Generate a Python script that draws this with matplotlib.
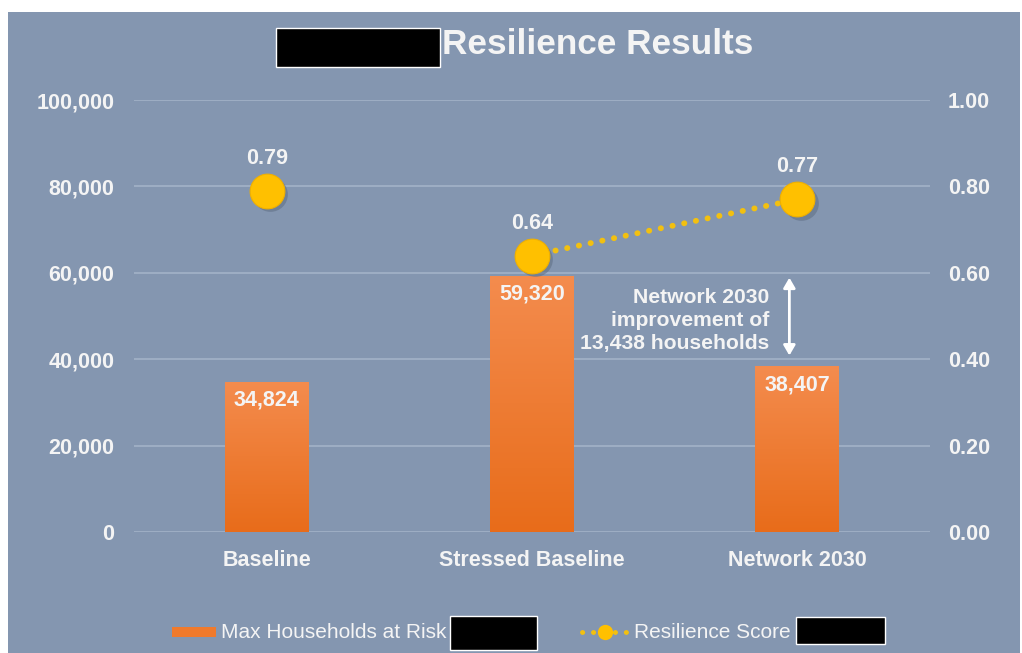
import numpy as np
import matplotlib
matplotlib.use("Agg")
from matplotlib import pyplot as plt
from matplotlib.patches import Rectangle, FancyArrowPatch
from matplotlib.lines import Line2D

# data
categories = ["Baseline", "Stressed Baseline", "Network 2030"]
households = [34824, 59320, 38407]
scores = [0.79, 0.64, 0.77]
score_labels = ["0.79", "0.64", "0.77"]
connected = [False, True, True]   # the dotted line only joins the last two points
note = "Network 2030\nimprovement of\n13,438 households"

BG = "#8496B0"
GRID = "#A3B2C7"
TXT = "#F4F4F4"
ORANGE_TOP = np.array([0xF4, 0x8C, 0x4E]) / 255
ORANGE_BOT = np.array([0xE8, 0x6C, 0x1A]) / 255
GOLD = "#FFC000"
FS = 15.5

plt.rcParams["font.family"] = ["Liberation Sans", "DejaVu Sans"]

W, H = 1022, 653
fig = plt.figure(figsize=(W / 100, H / 100), dpi=100, facecolor="white")
# slate panel
fig.patches.append(Rectangle((8 / W, 0), (1020 - 8) / W, (H - 12) / H,
                             transform=fig.transFigure, facecolor=BG,
                             edgecolor="none", zorder=-5))

ax = fig.add_axes([134 / W, 1 - 532 / H, (930 - 134) / W, (532 - 100) / H])
ax.set_facecolor("none")
ax2 = ax.twinx()

x = np.arange(len(categories))
bars = ax.bar(x, households, width=0.316, color="#F07A2C", zorder=3)
# vertical gradient inside each bar
grad = np.linspace(0, 1, 256)[:, None]
cols = ORANGE_TOP[None, :] * (1 - grad) + ORANGE_BOT[None, :] * grad
cols = cols[:, None, :]
for b in bars:
    x0, w, h = b.get_x(), b.get_width(), b.get_height()
    im = ax.imshow(cols, extent=(x0, x0 + w, 0, h), origin="upper",
                   aspect="auto", zorder=3.5)
    im.set_clip_path(b)
    ax.text(x0 + w / 2, h - 4300, f"{h:,.0f}", ha="center", va="center",
            color=TXT, fontsize=FS, fontweight="bold", zorder=5)

ax.set_xlim(-0.5, 2.5)
ax.set_ylim(0, 100000)
ax.set_yticks(np.arange(0, 100001, 20000))
ax.set_yticklabels([f"{v:,}" for v in range(0, 100001, 20000)])
ax.grid(axis="y", color=GRID, lw=1.2, zorder=1)
ax.set_axisbelow(True)
ax.set_xticks(x)
ax.set_xticklabels(categories)
for a in (ax, ax2):
    for s in a.spines.values():
        s.set_visible(False)
ax.tick_params(axis="y", length=0, pad=14, labelcolor=TXT, labelsize=FS)
ax.tick_params(axis="x", length=0, pad=13, labelcolor=TXT, labelsize=FS)
for t in ax.get_xticklabels() + ax.get_yticklabels():
    t.set_fontweight("bold")

ax2.set_ylim(0, 1)
ax2.set_yticks(np.arange(0, 1.01, 0.2))
ax2.set_yticklabels([f"{v:.2f}" for v in np.arange(0, 1.01, 0.2)])
ax2.tick_params(axis="y", length=0, pad=13, labelcolor=TXT, labelsize=FS)
for t in ax2.get_yticklabels():
    t.set_fontweight("bold")

# dotted line joining the connected scores
xs = [xi for xi, c in zip(x, connected) if c]
ys = [s for s, c in zip(scores, connected) if c]
ax2.plot(xs, ys, color="#F2C010", lw=4.2, linestyle=(0, (0.05, 2.0)),
         dash_capstyle="round", zorder=4)
# shadow then markers
ax2.plot(x + 0.012, np.array(scores) - 0.008, "o", ms=25, color="#5F6E84",
         alpha=0.55, mec="none", zorder=4.5)
ax2.plot(x, scores, "o", ms=25, color=GOLD, mec="#F0B000", mew=0.8, zorder=5)
for xi, s, lab in zip(x, scores, score_labels):
    ax2.text(xi, s + 0.075, lab, ha="center", va="center", color=TXT,
             fontsize=FS, fontweight="bold", zorder=6)

# improvement arrow and note
ax.add_patch(FancyArrowPatch((1.97, households[1] + 200), (1.97, households[2] + 1800),
                             arrowstyle="<|-|>,head_length=6,head_width=3.5",
                             color="white", lw=2, zorder=6))
ax.text(1.895, 49000, note, ha="right", va="center", color=TXT, fontsize=15.2,
        fontweight="bold", linespacing=1.25, zorder=6)

# title with redaction box
fig.text(442 / W, 1 - 44 / H, "Resilience Results", ha="left", va="center",
         color=TXT, fontsize=25.3, fontweight="bold")
fig.patches.append(Rectangle((276 / W, 1 - 67 / H), 164 / W, 39 / H,
                             transform=fig.transFigure, facecolor="black",
                             edgecolor="white", lw=1, zorder=5))

# legend drawn by hand
ly = 1 - 632 / H
fig.patches.append(Rectangle((172 / W, 1 - 637 / H), 44 / W, 10 / H,
                             transform=fig.transFigure, facecolor="#F07A2C",
                             edgecolor="none", zorder=5))
fig.text(221 / W, ly, "Max Households at Risk", ha="left", va="center",
         color=TXT, fontsize=15)
fig.patches.append(Rectangle((450 / W, 1 - 650 / H), 87 / W, 34 / H,
                             transform=fig.transFigure, facecolor="black",
                             edgecolor="white", lw=1, zorder=5))
fig.lines.append(Line2D([582 / W, 628 / W], [ly, ly], transform=fig.transFigure,
                        color="#F2C010", lw=3.5, linestyle=(0, (0.05, 2.2)),
                        dash_capstyle="round"))
fig.lines.append(Line2D([605 / W], [ly], transform=fig.transFigure, marker="o",
                        ms=11, color=GOLD, mec="none"))
fig.text(634 / W, ly, "Resilience Score", ha="left", va="center",
         color=TXT, fontsize=15)
fig.patches.append(Rectangle((796 / W, 1 - 644 / H), 89 / W, 27 / H,
                             transform=fig.transFigure, facecolor="black",
                             edgecolor="white", lw=1, zorder=5))

fig.savefig("out.png", dpi=100, facecolor="white")
